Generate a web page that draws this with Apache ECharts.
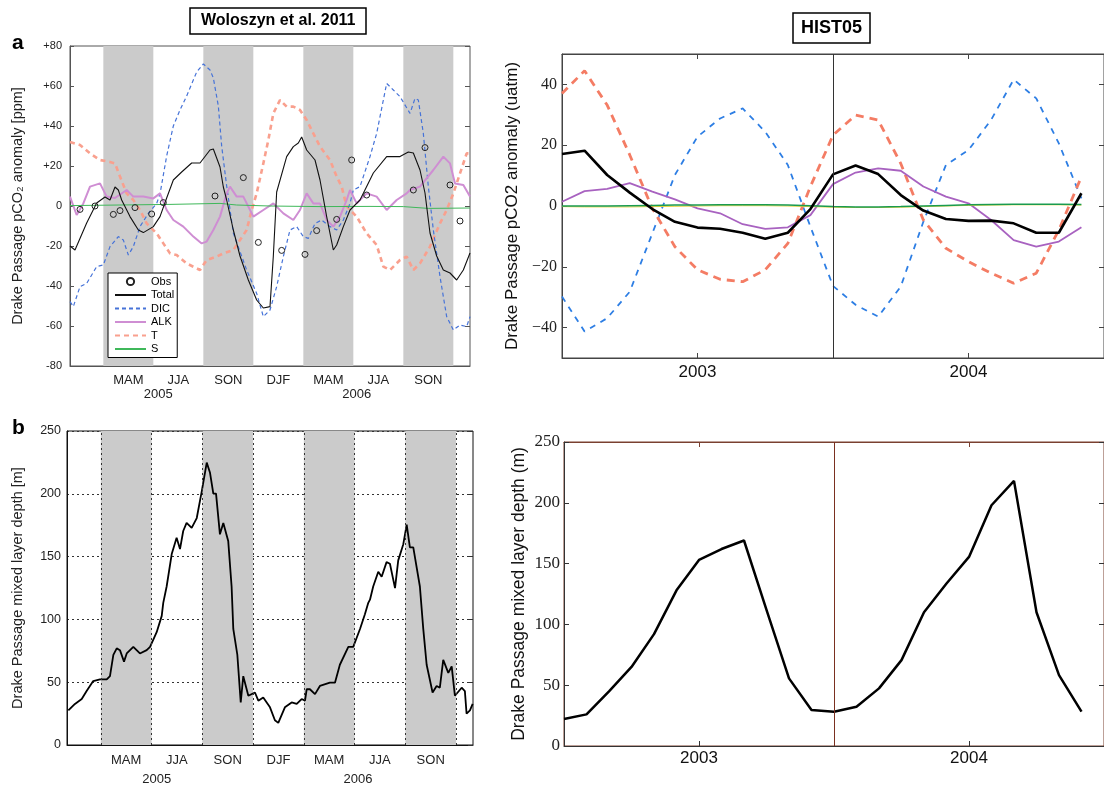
<!DOCTYPE html>
<html>
<head>
<meta charset="utf-8">
<script src="https://cdn.jsdelivr.net/npm/echarts@6/dist/echarts.min.js"></script>
<style>
  html, body { margin: 0; padding: 0; background: #fff; }
  #chart { width: 1104px; height: 789px; }
</style>
</head>
<body>
<div id="chart"></div>
<script>
// ---- panel a (Woloszyn et al. 2011), x in months from Jan 2005 ----
const seasonBands = [[2, 5], [8, 11], [14, 17], [20, 23]];
const bandEdges = [2, 5, 8, 11, 14, 17, 20, 23];
const seasonPos = [3.5, 6.5, 9.5, 12.5, 15.5, 18.5, 21.5];
const seasonNames = ['MAM', 'JJA', 'SON', 'DJF', 'MAM', 'JJA', 'SON'];
const yearPos = [5.3, 17.2];
const yearNames = ['2005', '2006'];

const tlObs = [[0.6,-1.7],[1.5,0],[2.6,-4.2],[3.0,-2.3],[3.9,-0.8],[4.9,-4],[5.6,1.7],[8.7,5],
  [10.4,14.2],[11.3,-18.2],[12.7,-22.2],[14.1,-24.2],[14.8,-12.3],[16.0,-6.7],[16.9,23],
  [17.8,5.5],[20.6,8],[21.3,29.2],[22.8,10.5],[23.4,-7.5]];

const tlTotal = [[0,-20],[0.3,-22],[1.0,-8.5],[1.6,1.5],[2.1,4.5],[2.4,3],[2.7,9.5],[2.9,8],
  [3.1,3],[3.6,-5.3],[4.1,-12],[4.4,-13.3],[5.0,-10.3],[5.4,-5.3],[5.8,4],[6.2,13],[6.7,17],
  [7.3,21.5],[7.8,21.5],[8.4,28],[8.6,28.5],[9.0,19.5],[9.2,9.5],[9.4,3],[9.8,-12],[10.2,-25],
  [10.7,-37],[11.2,-47],[11.6,-51],[12.0,-50.3],[12.2,-25],[12.4,7],[13.0,24.7],[13.4,29.7],
  [13.7,31.5],[13.9,34.5],[14.2,28],[14.7,23],[15.0,13],[15.4,-5.3],[15.8,-22],[16.0,-19.5],
  [16.4,-10.3],[16.8,-2],[17.4,3],[18.2,16.5],[19.0,24.7],[19.8,24.7],[20.3,27],[20.6,26.5],
  [21.0,18],[21.3,6.5],[21.6,-13.5],[22.0,-25],[22.4,-32],[22.8,-33.5],[23.2,-37],[23.6,-32],
  [24.0,-23.5]];

const tlDIC = [[0,-47.8],[0.2,-50.3],[0.6,-40.3],[1.0,-38.7],[1.6,-30.3],[2.0,-29.5],[2.4,-20.3],
  [2.9,-15.3],[3.2,-17],[3.5,-24.5],[3.8,-20.3],[4.2,-10.3],[4.7,-3.7],[5.2,1.3],[5.4,6],
  [5.8,25],[6.2,40],[6.6,48],[7.0,55],[7.6,67],[8.0,71],[8.4,68],[8.6,64],[8.9,50],[9.1,30],
  [9.4,10],[9.8,-13.5],[10.6,-32],[11.2,-43.7],[11.6,-55.3],[12.0,-52],[12.4,-40.3],[12.8,-25.3],
  [13.2,-12],[13.6,-10.3],[14.0,-15.3],[14.3,-16.2],[14.7,-8.7],[15.1,-7],[15.6,-10.3],
  [16.0,-12],[16.4,-7],[16.8,1.3],[17.0,8],[17.4,9.7],[18.0,24.7],[18.4,36.3],[19.0,61.3],
  [19.4,58],[19.8,54.7],[20.4,46.3],[20.7,53.8],[20.9,53],[21.2,36.3],[21.5,9.7],[21.8,-12],
  [22.2,-35.3],[22.6,-55.3],[23.0,-62],[23.4,-59.5],[23.8,-60.3],[24.0,-55.3]];

const tlALK = [[0,4.7],[0.4,-4.5],[0.8,1.3],[1.2,9.7],[1.8,11.3],[2.2,4.7],[2.7,4],[3.4,8],
  [3.8,4.7],[4.4,4.7],[5.0,3.8],[5.4,6.3],[5.8,-2],[6.2,-7],[6.8,-10.3],[7.4,-15.3],[7.9,-18.7],
  [8.2,-17.8],[8.6,-12],[9.0,-5.3],[9.4,6.3],[9.6,9.7],[10.0,4.7],[10.4,4.7],[11.0,-5.3],
  [11.6,-2],[12.2,1.3],[12.8,-3.7],[13.4,-7],[13.8,-2],[14.2,6.3],[14.6,1.3],[15.0,1.3],
  [15.4,-7],[15.8,-10.3],[16.2,-5.3],[16.6,3],[16.8,8],[17.2,1.3],[17.8,6.3],[18.4,4.7],
  [19.0,-2],[19.6,3],[20.2,6.3],[20.4,8],[21.0,9.7],[21.8,18],[22.4,24.7],[22.8,21.3],
  [23.1,11.3],[23.6,10.5],[24.0,4.7]];

const tlT = [[0,32],[0.6,30.5],[1.2,26.3],[1.8,23],[2.4,22],[2.7,21.3],[3.0,14.7],[3.4,6.3],
  [3.8,3],[4.2,-2],[4.6,-8.7],[5.2,-13.7],[5.6,-18.7],[6.0,-23.7],[6.4,-24.5],[7.0,-28.7],
  [7.8,-32],[8.2,-27],[8.8,-25.3],[9.2,-23.7],[9.8,-22],[10.2,-17],[10.6,-12],[10.9,-2],
  [11.2,6.3],[11.6,21.3],[11.9,33],[12.2,46.3],[12.6,53],[13.0,49.7],[13.4,49.7],[13.8,48],
  [14.2,43],[14.6,36.3],[15.0,29.7],[15.6,23],[16.0,14.7],[16.3,9.7],[16.6,-0.3],[17.2,-5.3],
  [17.8,-13.7],[18.4,-19.5],[18.8,-30.3],[19.2,-32],[19.8,-27],[20.2,-25.3],[20.6,-32],
  [21.0,-28.7],[21.6,-20.3],[22.2,-8.7],[22.6,-2],[23.0,6.3],[23.4,16.3],[23.8,26.3],[24.0,26.3]];

const tlS = [[0,0.2],[3,0.5],[6,0.8],[9,1.3],[10,0.5],[12,0],[15,-0.3],[18,-0.2],[20,-0.3],
  [21.5,-1.2],[24,-1]];

// ---- panel b, mixed layer depth (m) ----
const blMLD = [[0.08,27.5],[0.47,32.7],[0.87,36.6],[1.16,43],[1.55,50.9],[1.95,52.2],[2.35,52.2],
  [2.54,54.8],[2.74,71.7],[2.94,76.9],[3.13,75.5],[3.37,66.4],[3.53,72.9],[3.92,78.1],[4.31,72.9],
  [4.71,75.5],[4.91,78.1],[5.30,89.8],[5.60,102.8],[5.69,113.2],[5.89,126.2],[6.19,152],
  [6.48,165.1],[6.68,156],[6.87,170.4],[7.07,176.8],[7.37,172.9],[7.67,180.7],[7.96,201.5],
  [8.26,224.8],[8.45,217],[8.65,200.2],[8.81,200.2],[9.04,167.7],[9.24,176.8],[9.53,162.5],
  [9.73,126.2],[9.83,92.4],[10.07,71.7],[10.27,33.9],[10.42,54.8],[10.72,39.2],[11.11,41.8],
  [11.31,35.3],[11.60,37.8],[12.00,30],[12.29,19.7],[12.49,17.6],[12.88,30],[13.28,33.9],
  [13.58,32.7],[13.87,36.6],[14.07,35.3],[14.17,44.4],[14.36,44.4],[14.66,40.5],[14.95,47],
  [15.54,49.6],[15.84,49.6],[16.13,63.9],[16.63,78.1],[16.92,78.1],[17.32,92.4],[17.61,104.1],
  [17.81,113.2],[17.91,115.7],[18.10,126.2],[18.40,137.9],[18.60,134],[18.89,145.6],
  [19.09,144.3],[19.39,124.9],[19.58,147],[19.88,159.9],[20.08,175.5],[20.27,157.3],
  [20.47,157.3],[20.86,126.2],[21.06,92.4],[21.26,63.9],[21.61,41.8],[21.85,47],[22.04,45.6],
  [22.24,67.8],[22.54,57.4],[22.74,62.6],[22.93,39.2],[23.33,45.6],[23.52,42.9],[23.62,24.9],
  [23.82,27.5],[23.98,32.7]];

// ---- HIST05 panels, monthly model output ----
const months = Array.from({ length: 24 }, (_, i) => i);
const histYearPos = [6, 18];
const histYearNames = ['2003', '2004'];
const histSplit = 12;

const trTotal = [17.1, 18.2, 10.2, 4.4, -1, -5.2, -7.1, -7.5, -8.8, -10.8, -8.8, -1,
  10.4, 13.3, 10.5, 3.6, -1.5, -4.3, -4.9, -4.8, -5.7, -8.8, -8.8, 4.2];
const trALK = [1.4, 4.9, 5.6, 7.5, 4.7, 2.2, -0.8, -2.4, -6.0, -7.5, -7.0, -3.0,
  7.2, 11.0, 12.4, 11.6, 6.4, 3.1, 0.9, -4.6, -11.2, -13.4, -11.7, -7.0];
const trDIC = [-29.8, -41.3, -36.9, -28.2, -9, 10.2, 22.8, 28.8, 32.1, 24.4, 13.5, -6.8,
  -26.3, -32.5, -36.4, -26.5, -5.2, 13.5, 18.4, 28.3, 41.6, 35.4, 20.6, 2.5];
const trT = [37, 44.5, 33.2, 16.8, -0.8, -13.4, -21, -24.1, -24.9, -21, -12.3, 6.4,
  23.3, 29.9, 28.3, 14, -4.6, -13.9, -18.3, -22.1, -25.4, -22.1, -7.9, 9.6];
const trS = [0, 0, 0, 0.1, 0.2, 0.3, 0.3, 0.4, 0.4, 0.4, 0.3, 0.1,
  -0.2, -0.3, -0.3, -0.2, 0, 0.2, 0.4, 0.5, 0.6, 0.6, 0.6, 0.5];
const trFW = [-0.2, -0.3, -0.3, -0.3, -0.2, -0.1, 0, 0.1, 0.1, 0.1, 0, -0.2,
  -0.4, -0.5, -0.5, -0.4, -0.2, 0, 0.2, 0.3, 0.4, 0.4, 0.4, 0.3];
const brMLD = [22.2, 26, 45, 65, 92, 128, 153, 162, 169, 112, 55.6, 29.6,
  28.2, 32.3, 47.4, 70.6, 110, 133.6, 155.5, 198, 218, 110, 58.3, 28.2];

const trTicks = [-40, -20, 0, 20, 40];

const sans = 'Liberation Sans, Arial, sans-serif';
const serif = 'Liberation Serif, Times New Roman, serif';

const pairs = (ys) => months.map((m, i) => [m, ys[i]]);
const near = (list, v) => list.findIndex((p) => Math.abs(p - v) < 0.01);

function seasonLabel(v) {
  const s = near(seasonPos, v);
  if (s >= 0) return seasonNames[s];
  const y = near(yearPos, v);
  return y >= 0 ? '\n' + yearNames[y] : '';
}
function histLabel(v) {
  const y = near(histYearPos, v);
  return y >= 0 ? histYearNames[y] : '';
}
const minus = (v) => String(v).replace('-', '\u2212');

const chart = echarts.init(document.getElementById('chart'));

const monthAxis = (grid, lineColor, lh, margin) => ({
  type: 'value', gridIndex: grid, min: 0, max: 24,
  axisLine: { onZero: false, lineStyle: { color: lineColor } },
  axisTick: { show: false },
  splitLine: { show: false },
  axisLabel: {
    customValues: seasonPos.concat(yearPos),
    formatter: seasonLabel,
    fontFamily: sans, fontSize: 13, lineHeight: lh, color: '#222', margin: margin
  }
});

const histAxis = (grid, pos, lineColor, margin) => ({
  type: 'value', gridIndex: grid, position: pos, min: 0, max: 24,
  axisLine: { onZero: false, lineStyle: { color: lineColor } },
  axisTick: { customValues: histYearPos, inside: true, length: 5, lineStyle: { color: lineColor } },
  splitLine: { show: false },
  axisLabel: {
    show: pos === 'bottom',
    customValues: histYearPos, formatter: histLabel,
    fontFamily: sans, fontSize: 17, color: '#111', margin: margin
  }
});

const mirrorY = (grid, min, max, interval, color, ticks) => ({
  type: 'value', gridIndex: grid, position: 'right', min: min, max: max, interval: interval,
  axisLine: { show: false, onZero: false }, axisLabel: { show: false }, splitLine: { show: false },
  axisTick: { customValues: ticks, inside: true, length: 5, lineStyle: { color: color } }
});

const option = {
  animation: false,
  backgroundColor: '#fff',
  title: [
    { text: 'Woloszyn et al. 2011', left: 190, top: 8, padding: [5, 11],
      borderColor: '#000', borderWidth: 1.5,
      textStyle: { fontFamily: sans, fontSize: 16, fontWeight: 'bold', color: '#000' } },
    { text: 'HIST05', left: 793, top: 13, padding: [6, 8],
      borderColor: '#000', borderWidth: 1.5,
      textStyle: { fontFamily: sans, fontSize: 18, fontWeight: 'bold', color: '#000' } },
    { text: 'a', left: 12, top: 33, padding: 0,
      textStyle: { fontFamily: sans, fontSize: 21, fontWeight: 'bold', color: '#000' } },
    { text: 'b', left: 12, top: 418, padding: 0,
      textStyle: { fontFamily: sans, fontSize: 21, fontWeight: 'bold', color: '#000' } }
  ],
  legend: {
    data: [
      { name: 'Obs', itemStyle: { opacity: 1 } },
      'Total', 'DIC', 'ALK', 'T', 'S'
    ],
    orient: 'vertical', left: 108, top: 273,
    padding: [3, 3, 3, 6], itemWidth: 31, itemHeight: 9, itemGap: 2.5,
    borderColor: '#000', borderWidth: 1, backgroundColor: '#fff',
    selectedMode: false,
    itemStyle: { opacity: 0 },
    textStyle: { fontFamily: sans, fontSize: 11, lineHeight: 9, color: '#000' }
  },
  grid: [
    { left: 70, top: 46, width: 400, height: 320, show: true, borderColor: '#555', borderWidth: 1 },
    { left: 67, top: 431, width: 406, height: 321, show: true, borderColor: '#111', borderWidth: 1 },
    { left: 562, top: 54, width: 546, height: 304, show: true, borderColor: '#444', borderWidth: 1 },
    { left: 564, top: 442, width: 546, height: 304, show: true, borderColor: '#7a4030', borderWidth: 1 }
  ],
  xAxis: [
    monthAxis(0, '#555', 14, 7),
    monthAxis(1, '#111', 19, 6),
    histAxis(2, 'bottom', '#444', 6),
    histAxis(2, 'top', '#444', 6),
    histAxis(3, 'bottom', '#333', 4),
    histAxis(3, 'top', '#7a4030', 4)
  ],
  yAxis: [
    { type: 'value', gridIndex: 0, min: -80, max: 80, interval: 20,
      name: 'Drake Passage pCO\u2082 anomaly [ppm]', nameLocation: 'middle', nameGap: 45,
      nameTextStyle: { fontFamily: sans, fontSize: 14.5, color: '#222' },
      axisLine: { onZero: false, lineStyle: { color: '#555' } },
      axisTick: { inside: true, length: 4, lineStyle: { color: '#555' } },
      splitLine: { show: false },
      axisLabel: { fontFamily: sans, fontSize: 11, color: '#222', margin: 8,
        formatter: (v) => (v > 0 ? '+' + v : String(v)) } },
    mirrorY(0, -80, 80, 20, '#555'),
    { type: 'value', gridIndex: 1, min: 0, max: 250, interval: 50,
      name: 'Drake Passage mixed layer depth [m]', nameLocation: 'middle', nameGap: 42,
      nameTextStyle: { fontFamily: sans, fontSize: 14.5, color: '#222' },
      axisLine: { onZero: false, lineStyle: { color: '#111' } },
      axisTick: { show: false },
      splitLine: { lineStyle: { type: [2, 3], color: '#333', width: 1 } },
      axisLabel: { fontFamily: sans, fontSize: 12.5, color: '#222', margin: 6 } },
    mirrorY(1, 0, 250, 50, '#333'),
    { type: 'value', gridIndex: 2, min: -50, max: 50,
      name: 'Drake Passage pCO2 anomaly (uatm)', nameLocation: 'middle', nameGap: 41,
      nameTextStyle: { fontFamily: sans, fontSize: 17, color: '#111' },
      axisLine: { onZero: false, lineStyle: { color: '#444' } },
      axisTick: { customValues: trTicks, inside: true, length: 5, lineStyle: { color: '#444' } },
      splitLine: { show: false },
      axisLabel: { customValues: trTicks, formatter: minus,
        fontFamily: serif, fontSize: 16, color: '#222', margin: 5 } },
    mirrorY(2, -50, 50, 10, '#444', trTicks),
    { type: 'value', gridIndex: 3, min: 0, max: 250, interval: 50,
      name: 'Drake Passage mixed layer depth (m)', nameLocation: 'middle', nameGap: 36,
      nameTextStyle: { fontFamily: sans, fontSize: 17.5, color: '#111' },
      axisLine: { onZero: false, lineStyle: { color: '#333' } },
      axisTick: { inside: true, length: 5, lineStyle: { color: '#333' } },
      splitLine: { show: false },
      axisLabel: { fontFamily: serif, fontSize: 17, color: '#222', margin: 4 } },
    mirrorY(3, 0, 250, 50, '#333')
  ],
  series: [
    // panel a
    { name: 'T', type: 'line', xAxisIndex: 0, yAxisIndex: 0, data: tlT, symbol: 'none', z: 2,
      lineStyle: { color: '#f9a08e', width: 2.6, type: [5, 4] }, itemStyle: { color: '#f9a08e' } },
    { name: 'DIC', type: 'line', xAxisIndex: 0, yAxisIndex: 0, data: tlDIC, symbol: 'none', z: 2,
      lineStyle: { color: '#4673d8', width: 1.2, type: [4, 3] }, itemStyle: { color: '#4673d8' } },
    { name: 'ALK', type: 'line', xAxisIndex: 0, yAxisIndex: 0, data: tlALK, symbol: 'none', z: 2,
      lineStyle: { color: '#cf8ed3', width: 2 }, itemStyle: { color: '#cf8ed3' } },
    { name: 'S', type: 'line', xAxisIndex: 0, yAxisIndex: 0, data: tlS, symbol: 'none', z: 2,
      lineStyle: { color: '#3fb85a', width: 1 }, itemStyle: { color: '#3fb85a' } },
    { name: 'Total', type: 'line', xAxisIndex: 0, yAxisIndex: 0, data: tlTotal, symbol: 'none', z: 3,
      lineStyle: { color: '#111', width: 1.1 }, itemStyle: { color: '#111' },
      markArea: { silent: true, itemStyle: { color: '#cbcbcb' },
        data: seasonBands.map((b) => [{ xAxis: b[0] }, { xAxis: b[1] }]) } },
    { name: 'Obs', type: 'line', xAxisIndex: 0, yAxisIndex: 0, data: tlObs, z: 4,
      symbol: 'circle', symbolSize: 6, showAllSymbol: true,
      lineStyle: { opacity: 0 },
      itemStyle: { color: 'rgba(255,255,255,0)', borderColor: '#222', borderWidth: 1 } },
    // panel b
    { name: 'MLD obs', type: 'line', xAxisIndex: 1, yAxisIndex: 2, data: blMLD, symbol: 'none', z: 3,
      lineStyle: { color: '#000', width: 1.8 },
      markArea: { silent: true, itemStyle: { color: '#cbcbcb' },
        data: seasonBands.map((b) => [{ xAxis: b[0] }, { xAxis: b[1] }]) },
      markLine: { silent: true, symbol: 'none', label: { show: false },
        lineStyle: { type: [2, 3], color: '#333', width: 1 },
        data: bandEdges.map((e) => ({ xAxis: e })) } },
    // HIST05 pCO2
    { name: 'DIC HIST05', type: 'line', xAxisIndex: 2, yAxisIndex: 4, data: pairs(trDIC), symbol: 'none',
      lineStyle: { color: '#2d7ee4', width: 1.8, type: [6, 6] } },
    { name: 'T HIST05', type: 'line', xAxisIndex: 2, yAxisIndex: 4, data: pairs(trT), symbol: 'none',
      lineStyle: { color: '#f47c64', width: 2.8, type: [8, 6] } },
    { name: 'ALK HIST05', type: 'line', xAxisIndex: 2, yAxisIndex: 4, data: pairs(trALK), symbol: 'none',
      lineStyle: { color: '#a862c0', width: 1.8 } },
    { name: 'FW HIST05', type: 'line', xAxisIndex: 2, yAxisIndex: 4, data: pairs(trFW), symbol: 'none',
      lineStyle: { color: '#e6d23c', width: 1 } },
    { name: 'S HIST05', type: 'line', xAxisIndex: 2, yAxisIndex: 4, data: pairs(trS), symbol: 'none',
      lineStyle: { color: '#1a9b50', width: 1.5 } },
    { name: 'Total HIST05', type: 'line', xAxisIndex: 2, yAxisIndex: 4, data: pairs(trTotal), symbol: 'none',
      lineStyle: { color: '#000', width: 2.6 },
      markLine: { silent: true, symbol: 'none', label: { show: false },
        lineStyle: { type: 'solid', color: '#333', width: 1 }, data: [{ xAxis: histSplit }] } },
    // HIST05 mixed layer depth
    { name: 'MLD HIST05', type: 'line', xAxisIndex: 4, yAxisIndex: 6, data: pairs(brMLD), symbol: 'none',
      lineStyle: { color: '#000', width: 2.5 },
      markLine: { silent: true, symbol: 'none', label: { show: false },
        lineStyle: { type: 'solid', color: '#7a3020', width: 1 }, data: [{ xAxis: histSplit }] } }
  ]
};

chart.setOption(option);
window.addEventListener('resize', () => chart.resize());
</script>
</body>
</html>
